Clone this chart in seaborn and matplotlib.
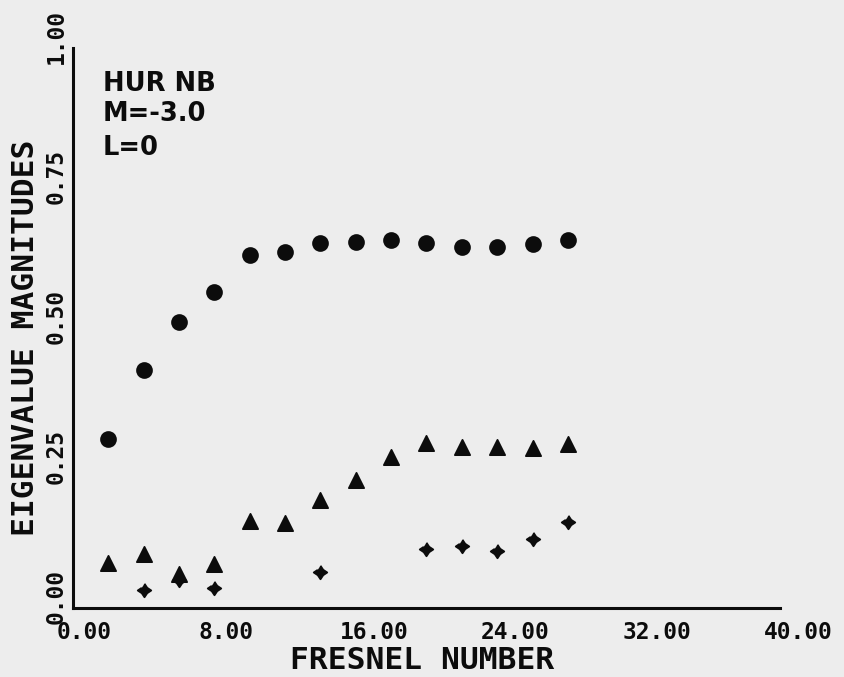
import matplotlib
matplotlib.use("Agg")
import numpy as np
import pandas as pd
import matplotlib.pyplot as plt
import matplotlib.transforms as mtransforms
import seaborn as sns

# Eigenvalue magnitudes of the three lowest modes versus Fresnel number
fresnel = [2, 4, 6, 8, 10, 12, 14, 16, 18, 20, 22, 24, 26, 28]
mode_1 = [0.302, 0.425, 0.511, 0.565, 0.630, 0.635, 0.652, 0.654,
          0.658, 0.652, 0.645, 0.645, 0.650, 0.658]
mode_2 = [0.080, 0.096, 0.060, 0.079, 0.156, 0.152, 0.193, 0.229,
          0.270, 0.295, 0.287, 0.287, 0.286, 0.293]
mode_3 = [np.nan, 0.032, 0.050, 0.035, np.nan, np.nan, 0.064, np.nan,
          np.nan, 0.105, 0.110, 0.101, 0.124, 0.154]

x_ticks = [0, 8, 16, 24, 32, 40]
x_tick_labels = ["0.00", "8.00", "16.00", "24.00", "32.00", "40.00"]
y_ticks = [0.0, 0.25, 0.50, 0.75, 1.0]
y_tick_labels = ["0.00", "0.25", "0.50", "0.75", "1.00"]

case_lines = ["HUR NB", "M=-3.0", "L=0"]

PAPER = "#ededed"
INK = "#0c0c0c"

sns.set_theme(style="white")
plt.rcParams["font.family"] = ["DejaVu Sans"]

fig = plt.figure(figsize=(8.45, 6.77), dpi=100, facecolor=PAPER)
ax = fig.add_axes([73 / 845, 1 - 608 / 677, 707 / 845, 560 / 677])
ax.set_facecolor(PAPER)

# four-pointed star used for the third mode
star = [(0, 1), (0.4, 0.4), (1, 0), (0.4, -0.4),
        (0, -1), (-0.4, -0.4), (-1, 0), (-0.4, 0.4)]

series = [(mode_1, "o", 115), (mode_2, "^", 120), (mode_3, star, 95)]
for values, marker, size in series:
    sns.scatterplot(x=fresnel, y=values, marker=marker, s=size, color=INK,
                    edgecolor=INK, linewidth=1.3, ax=ax, clip_on=False,
                    legend=False)
for coll in ax.collections:
    coll.set_joinstyle("round")

ax.set_xlim(0, 40)
ax.set_ylim(0, 1)
ax.set_xticks(x_ticks, x_tick_labels)
ax.set_yticks(y_ticks, y_tick_labels)

sns.despine(ax=ax)
for side in ("left", "bottom"):
    ax.spines[side].set_linewidth(2.2)
    ax.spines[side].set_color(INK)

ax.tick_params(axis="both", direction="out", length=4.3, width=1.8,
               color=INK, labelcolor=INK)
ax.tick_params(axis="x", pad=5.0)
ax.tick_params(axis="y", pad=8.0)

tick_font = {"fontfamily": "DejaVu Sans Mono", "fontweight": "bold",
             "fontsize": 16.5}
for lab in ax.get_xticklabels():
    lab.set(**tick_font)
    lab.set_ha("left")
    lab.set_transform(lab.get_transform() +
                      mtransforms.ScaledTranslation(-0.16, 0, fig.dpi_scale_trans))
for lab in ax.get_yticklabels():
    lab.set(**tick_font)
    lab.set_rotation(90)
    lab.set_rotation_mode("anchor")
    lab.set_ha("left")
    lab.set_va("center")
    lab.set_transform(lab.get_transform() +
                      mtransforms.ScaledTranslation(0, -0.16, fig.dpi_scale_trans))

label_font = dict(fontfamily="DejaVu Sans Mono", fontweight="bold",
                  fontsize=22.5, color=INK)
ax.set_xlabel("FRESNEL NUMBER", **label_font)
ax.xaxis.label.set_va("center")
ax.xaxis.set_label_coords(0.494, -0.094)
ax.set_ylabel("EIGENVALUE MAGNITUDES", **label_font)
ax.yaxis.label.set_va("center")
ax.yaxis.set_label_coords(-0.0665, 0.482)

for text, yb in zip(case_lines, [0.9232, 0.870, 0.809]):
    ax.text(0.0424, yb, text, transform=ax.transAxes, ha="left",
            va="baseline", fontsize=18.5, fontweight="bold", color=INK)

fig.savefig("out.png", dpi=100, facecolor=PAPER)
